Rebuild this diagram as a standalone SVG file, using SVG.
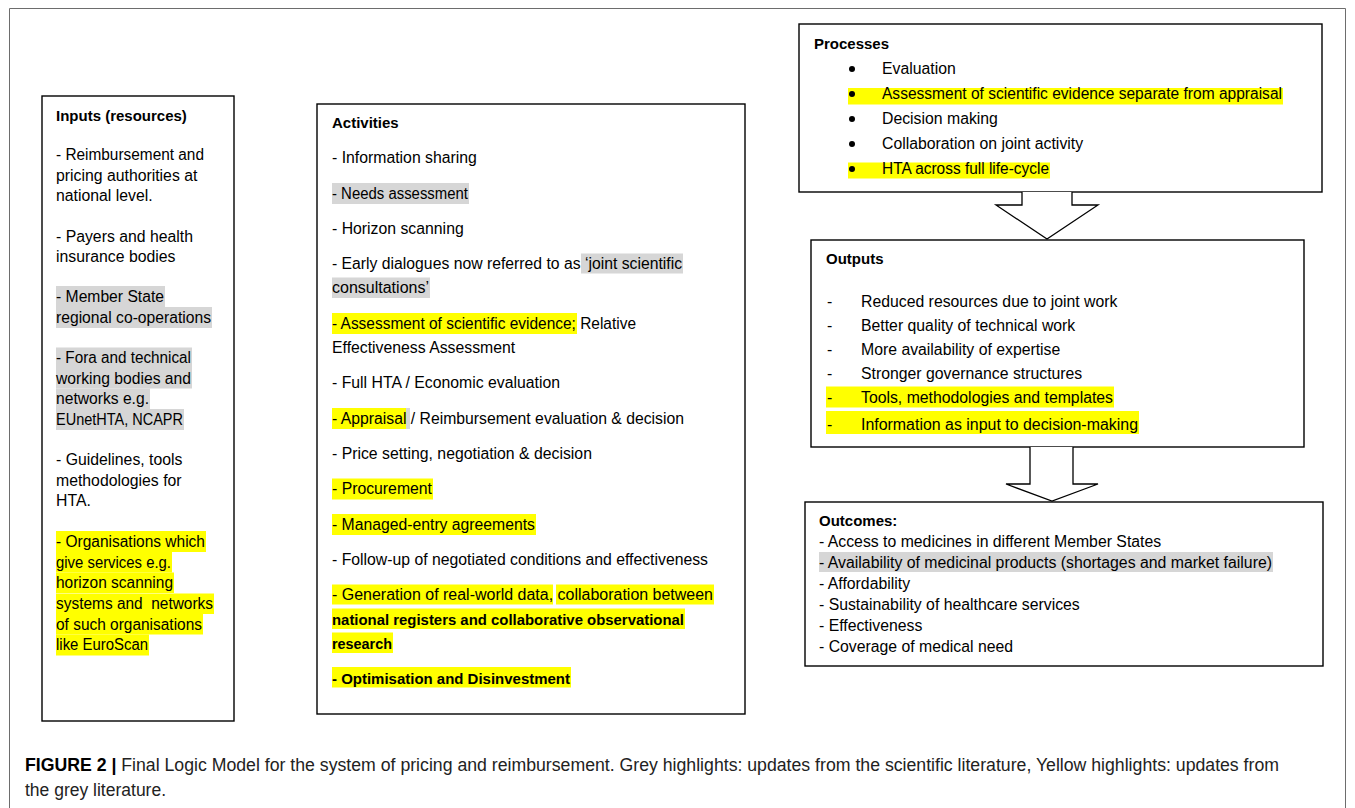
<svg xmlns="http://www.w3.org/2000/svg" width="1355" height="808" viewBox="0 0 1355 808">
<style>
text { font-family: "Liberation Sans", Arial, sans-serif; font-size: 15.8px; fill: #000; }
.b { font-weight: bold; font-size: 15px; }
.box { fill: #fff; stroke: #000; stroke-width: 1.4; }
.y { fill: #ffff00; }
.g { fill: #d6d6d6; }
.arrow { fill: #fff; stroke: #000; stroke-width: 1.3; stroke-linejoin: miter; }
.cap { font-size: 17.5px; fill: #222; }
.pre { white-space: pre; }
</style>
<rect width="1355" height="808" fill="#fff"/>
<path d="M9.5,830 V8.5 H1345.5 V830" fill="none" stroke="#6d6d6d" stroke-width="1"/>

<g id="inputs">
  <rect class="box" x="42" y="96" width="192" height="625"/>
  <rect class="g" x="56" y="286" width="109" height="21"/>
  <rect class="g" x="56" y="307" width="156" height="21"/>
  <rect class="g" x="56" y="347.5" width="136" height="21"/>
  <rect class="g" x="56" y="368" width="136" height="20.5"/>
  <rect class="g" x="56" y="388.5" width="94" height="20.5"/>
  <rect class="g" x="56" y="409" width="128" height="21"/>
  <rect class="y" x="56" y="531" width="150" height="21"/>
  <rect class="y" x="56" y="552" width="116" height="20.5"/>
  <rect class="y" x="56" y="572.5" width="118" height="20.5"/>
  <rect class="y" x="56" y="593.5" width="158" height="20.5"/>
  <rect class="y" x="56" y="614" width="147" height="20.5"/>
  <rect class="y" x="56" y="634.5" width="93" height="21"/>
  <text class="b" x="56" y="121">Inputs (resources)</text>
  <text x="56" y="160" textLength="148" lengthAdjust="spacingAndGlyphs">- Reimbursement and</text>
  <text x="56" y="181">pricing authorities at</text>
  <text x="56" y="201">national level.</text>
  <text x="56" y="241.5">- Payers and health</text>
  <text x="56" y="262">insurance bodies</text>
  <text x="56" y="301.5" textLength="108" lengthAdjust="spacingAndGlyphs">- Member State</text>
  <text x="56" y="322.5" textLength="155" lengthAdjust="spacingAndGlyphs">regional co-operations</text>
  <text x="56" y="363" textLength="135" lengthAdjust="spacingAndGlyphs">- Fora and technical</text>
  <text x="56" y="383.5" textLength="135" lengthAdjust="spacingAndGlyphs">working bodies and</text>
  <text x="56" y="404" textLength="93" lengthAdjust="spacingAndGlyphs">networks e.g.</text>
  <text x="56" y="424.5" textLength="127" lengthAdjust="spacingAndGlyphs">EUnetHTA, NCAPR</text>
  <text x="56" y="465">- Guidelines, tools</text>
  <text x="56" y="485.5">methodologies for</text>
  <text x="56" y="506">HTA.</text>
  <text x="56" y="546.5" textLength="149" lengthAdjust="spacingAndGlyphs">- Organisations which</text>
  <text x="56" y="567.5" textLength="115" lengthAdjust="spacingAndGlyphs">give services e.g.</text>
  <text x="56" y="588" textLength="117" lengthAdjust="spacingAndGlyphs">horizon scanning</text>
  <text class="pre" x="56" y="609" textLength="157" lengthAdjust="spacingAndGlyphs">systems and  networks</text>
  <text x="56" y="629.5" textLength="146" lengthAdjust="spacingAndGlyphs">of such organisations</text>
  <text x="56" y="650" textLength="92" lengthAdjust="spacingAndGlyphs">like EuroScan</text>
</g>

<g id="activities">
  <rect class="box" x="317" y="104" width="428" height="610"/>
  <rect class="g" x="332" y="183" width="137" height="21"/>
  <rect class="g" x="581" y="253.5" width="102" height="20"/>
  <rect class="g" x="332" y="277.5" width="98" height="20.5"/>
  <rect class="y" x="332" y="313" width="245" height="21"/>
  <rect class="y" x="332" y="408" width="74" height="21"/>
  <rect class="g" x="406" y="408" width="4" height="21"/>
  <rect class="y" x="332" y="478.5" width="101" height="21"/>
  <rect class="y" x="332" y="514" width="204" height="21"/>
  <rect class="y" x="332" y="584.5" width="221" height="20"/>
  <rect class="y" x="556" y="584.5" width="158" height="20"/>
  <rect class="y" x="332" y="608.5" width="353" height="20.5"/>
  <rect class="y" x="332" y="632.5" width="61" height="20.5"/>
  <rect class="y" x="332" y="667" width="239" height="20.5"/>
  <text class="b" x="332" y="128">Activities</text>
  <text x="332" y="163">- Information sharing</text>
  <text x="332" y="199" textLength="136" lengthAdjust="spacingAndGlyphs">- Needs assessment</text>
  <text x="332" y="234">- Horizon scanning</text>
  <text x="332" y="269" textLength="350" lengthAdjust="spacingAndGlyphs">- Early dialogues now referred to as ‘joint scientific</text>
  <text x="332" y="293" textLength="97" lengthAdjust="spacingAndGlyphs">consultations’</text>
  <text x="332" y="328.5" textLength="304" lengthAdjust="spacingAndGlyphs">- Assessment of scientific evidence; Relative</text>
  <text x="332" y="352.5">Effectiveness Assessment</text>
  <text x="332" y="388">- Full HTA / Economic evaluation</text>
  <text x="332" y="423.5" textLength="352" lengthAdjust="spacingAndGlyphs">- Appraisal / Reimbursement evaluation &amp; decision</text>
  <text x="332" y="459">- Price setting, negotiation &amp; decision</text>
  <text x="332" y="494" textLength="100" lengthAdjust="spacingAndGlyphs">- Procurement</text>
  <text x="332" y="530" textLength="203" lengthAdjust="spacingAndGlyphs">- Managed-entry agreements</text>
  <text x="332" y="565" textLength="376" lengthAdjust="spacingAndGlyphs">- Follow-up of negotiated conditions and effectiveness</text>
  <text x="332" y="600" textLength="381" lengthAdjust="spacingAndGlyphs">- Generation of real-world data, collaboration between</text>
  <text class="b" x="332" y="624.5" textLength="352" lengthAdjust="spacingAndGlyphs">national registers and collaborative observational</text>
  <text class="b" x="332" y="648.5" textLength="60" lengthAdjust="spacingAndGlyphs">research</text>
  <text class="b" x="332" y="683.5" textLength="238" lengthAdjust="spacingAndGlyphs">- Optimisation and Disinvestment</text>
</g>

<g id="processes">
  <rect class="box" x="799" y="24" width="523" height="168"/>
  <rect class="y" x="848" y="88" width="435" height="16.5"/>
  <rect class="y" x="848" y="162.5" width="202" height="16"/>
  <text class="b" x="814" y="48.5">Processes</text>
  <circle cx="852" cy="69" r="3"/>
  <circle cx="852" cy="94" r="3"/>
  <circle cx="852" cy="119" r="3"/>
  <circle cx="852" cy="144" r="3"/>
  <circle cx="852" cy="169" r="3"/>
  <text x="882" y="74">Evaluation</text>
  <text x="882" y="99" textLength="400" lengthAdjust="spacingAndGlyphs">Assessment of scientific evidence separate from appraisal</text>
  <text x="882" y="124">Decision making</text>
  <text x="882" y="149">Collaboration on joint activity</text>
  <text x="882" y="174" textLength="167" lengthAdjust="spacingAndGlyphs">HTA across full life-cycle</text>
</g>

<g id="outputs">
  <rect class="box" x="811" y="240" width="493" height="207"/>
  <rect class="y" x="826" y="386.5" width="288" height="21"/>
  <rect class="y" x="826" y="411" width="313" height="23"/>
  <text class="b" x="826" y="263.5">Outputs</text>
  <text x="827" y="306.5">-</text><text x="861" y="306.5">Reduced resources due to joint work</text>
  <text x="827" y="330.5">-</text><text x="861" y="330.5">Better quality of technical work</text>
  <text x="827" y="354.5">-</text><text x="861" y="354.5">More availability of expertise</text>
  <text x="827" y="378.5">-</text><text x="861" y="378.5">Stronger governance structures</text>
  <text x="827" y="402.5">-</text><text x="861" y="402.5" textLength="252" lengthAdjust="spacingAndGlyphs">Tools, methodologies and templates</text>
  <text x="827" y="429.5">-</text><text x="861" y="429.5" textLength="277" lengthAdjust="spacingAndGlyphs">Information as input to decision-making</text>
</g>

<g id="outcomes">
  <rect class="box" x="805" y="502" width="518" height="164"/>
  <rect class="g" x="819" y="552" width="454" height="20"/>
  <text class="b" x="819" y="525.5">Outcomes:</text>
  <text x="819" y="546.5">- Access to medicines in different Member States</text>
  <text x="819" y="567.5" textLength="453" lengthAdjust="spacingAndGlyphs">- Availability of medicinal products (shortages and market failure)</text>
  <text x="819" y="588.5">- Affordability</text>
  <text x="819" y="609.5">- Sustainability of healthcare services</text>
  <text x="819" y="630.5">- Effectiveness</text>
  <text x="819" y="651.5">- Coverage of medical need</text>
</g>

<g id="connectors">
  <path class="arrow" d="M1022,192 V205 H996 L1047,239 L1098,205 H1072 V192"/>
  <path class="arrow" d="M1030,447 V484 H1006 L1052,501 L1098,484 H1073 V447"/>
</g>

<g id="caption">
  <text class="cap" x="25" y="771" textLength="1254" lengthAdjust="spacingAndGlyphs"><tspan font-weight="bold" fill="#000">FIGURE 2 |</tspan> Final Logic Model for the system of pricing and reimbursement. Grey highlights: updates from the scientific literature, Yellow highlights: updates from</text>
  <text class="cap" x="25" y="796">the grey literature.</text>
</g>
</svg>
